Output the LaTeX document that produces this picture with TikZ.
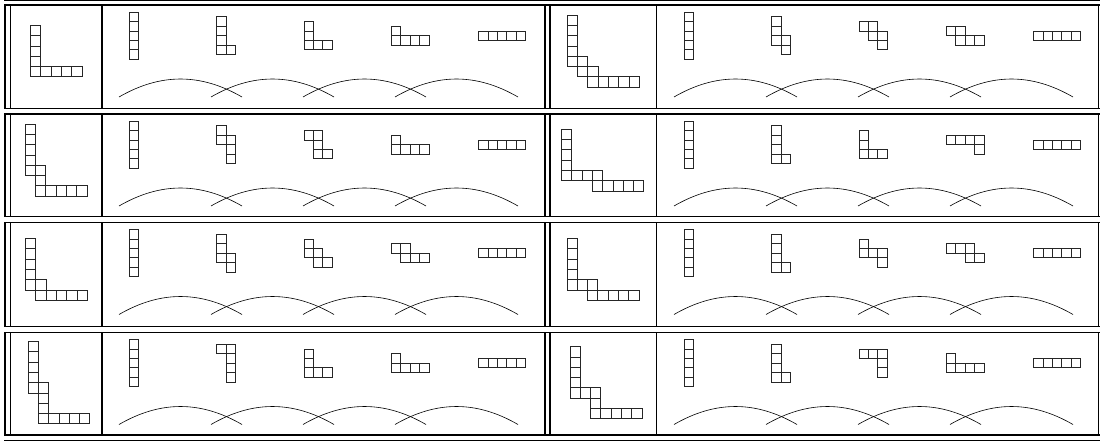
\documentclass[tikz,border=0pt]{standalone}
\usepackage{tikz}
\usetikzlibrary{positioning}

\newcommand{\bigcell}{10.3pt}
\newcommand{\smallcell}{9.4pt}

% a polyomino: centre, cell size, width, height, cells
\newcommand{\poly}[5]{%
  \begin{scope}[shift={#1},x=#2,y=#2,shift={(-#3/2,-#4/2)}]
    \foreach \cx/\cy in {#5}
      \draw[cell] (\cx,\cy) rectangle ++(1,1);
  \end{scope}}

% the five windows and the four arcs of one cell
\newcommand{\strip}[5]{%
  \begin{scope}[xshift=#1]
    \poly{(134,-30.5)}{\smallcell}{1}{5}{0/0,0/1,0/2,0/3,0/4}
    \poly{(226,-30.5)}{\smallcell}{2}{4}{#2}
    \poly{(318,-30.5)}{\smallcell}{3}{3}{#3}
    \poly{(410,-30.5)}{\smallcell}{4}{2}{#4}
    \poly{(502,-30.5)}{\smallcell}{5}{1}{0/0,1/0,2/0,3/0,4/0}
    \foreach \i in {0,...,3} {
      \coordinate (#5s\i) at (119+92*\i,-92);
      \coordinate (#5e\i) at (242+92*\i,-92);
      \draw[link] (#5s\i) to[bend left=30] (#5e\i);
    }
  \end{scope}}

\begin{document}
\begin{tikzpicture}[x=1pt,y=1pt,
  cell/.style={draw=black!85, line width=0.5pt},
  link/.style={line width=0.6pt},
  rule/.style={line width=1.6pt},
  thinrule/.style={line width=1pt}
]
\useasboundingbox (0,0) rectangle (1101,-441);

% table rules
\draw[thinrule] (4,-1) -- (1099.5,-1);
\draw[thinrule] (4,-440) -- (1099.5,-440);
\foreach \y in {5,108.5,114,216.5,222.5,326.5,332.5,434.7}
  \draw[rule] (4,-\y) -- (1099.5,-\y);
\foreach \t/\b in {5/108.5,114/216.5,222.5/326.5,332.5/434.7}
  \foreach \x in {5.2,10.3,101.7,545,549.7,656.3,1098.3}
    \draw[rule] (\x,-\t) -- (\x,-\b);

% row 1
\begin{scope}[yshift=-5pt]
  \poly{(56,-46)}{\bigcell}{5}{5}{0/4,0/3,0/2,0/1,0/0,1/0,2/0,3/0,4/0}
  \poly{(603,-46)}{\bigcell}{7}{7}{0/6,0/5,0/4,0/3,0/2,1/2,1/1,2/1,2/0,3/0,4/0,5/0,6/0}
  \strip{0pt}{0/3,0/2,0/1,0/0,1/0}{0/2,0/1,0/0,1/0,2/0}{0/1,0/0,1/0,2/0,3/0}{ra}
  \strip{555pt}{0/3,0/2,0/1,1/1,1/0}{0/2,1/2,1/1,2/1,2/0}{0/1,1/1,1/0,2/0,3/0}{rb}
\end{scope}

% row 2
\begin{scope}[yshift=-114pt]
  \poly{(56,-46)}{\bigcell}{6}{7}{0/6,0/5,0/4,0/3,0/2,1/2,1/1,1/0,2/0,3/0,4/0,5/0}
  \poly{(602.5,-46)}{\bigcell}{8}{6}{0/5,0/4,0/3,0/2,0/1,1/1,2/1,3/1,3/0,4/0,5/0,6/0,7/0}
  \strip{0pt}{0/3,0/2,1/2,1/1,1/0}{0/2,1/2,1/1,1/0,2/0}{0/1,0/0,1/0,2/0,3/0}{rc}
  \strip{555pt}{0/3,0/2,0/1,0/0,1/0}{0/2,0/1,0/0,1/0,2/0}{0/1,1/1,2/1,3/1,3/0}{rd}
\end{scope}

% row 3
\begin{scope}[yshift=-222.5pt]
  \poly{(56.2,-46.7)}{\bigcell}{6}{6}{0/5,0/4,0/3,0/2,0/1,1/1,1/0,2/0,3/0,4/0,5/0}
  \poly{(602.8,-46.7)}{\bigcell}{7}{6}{0/5,0/4,0/3,0/2,0/1,1/1,2/1,2/0,3/0,4/0,5/0,6/0}
  \strip{0pt}{0/3,0/2,0/1,1/1,1/0}{0/2,0/1,1/1,1/0,2/0}{0/1,1/1,1/0,2/0,3/0}{re}
  \strip{555pt}{0/3,0/2,0/1,0/0,1/0}{0/2,0/1,1/1,2/1,2/0}{0/1,1/1,2/1,2/0,3/0}{rf}
\end{scope}

% row 4
\begin{scope}[yshift=-332.5pt]
  \poly{(58.8,-50)}{\bigcell}{6}{8}{0/7,0/6,0/5,0/4,0/3,1/3,1/2,1/1,1/0,2/0,3/0,4/0,5/0}
  \poly{(605.8,-50)}{\bigcell}{7}{7}{0/6,0/5,0/4,0/3,0/2,1/2,2/2,2/1,2/0,3/0,4/0,5/0,6/0}
  \strip{0pt}{0/3,1/3,1/2,1/1,1/0}{0/2,0/1,0/0,1/0,2/0}{0/1,0/0,1/0,2/0,3/0}{rg}
  \strip{555pt}{0/3,0/2,0/1,0/0,1/0}{0/2,1/2,2/2,2/1,2/0}{0/1,0/0,1/0,2/0,3/0}{rh}
\end{scope}
\end{tikzpicture}
\end{document}
